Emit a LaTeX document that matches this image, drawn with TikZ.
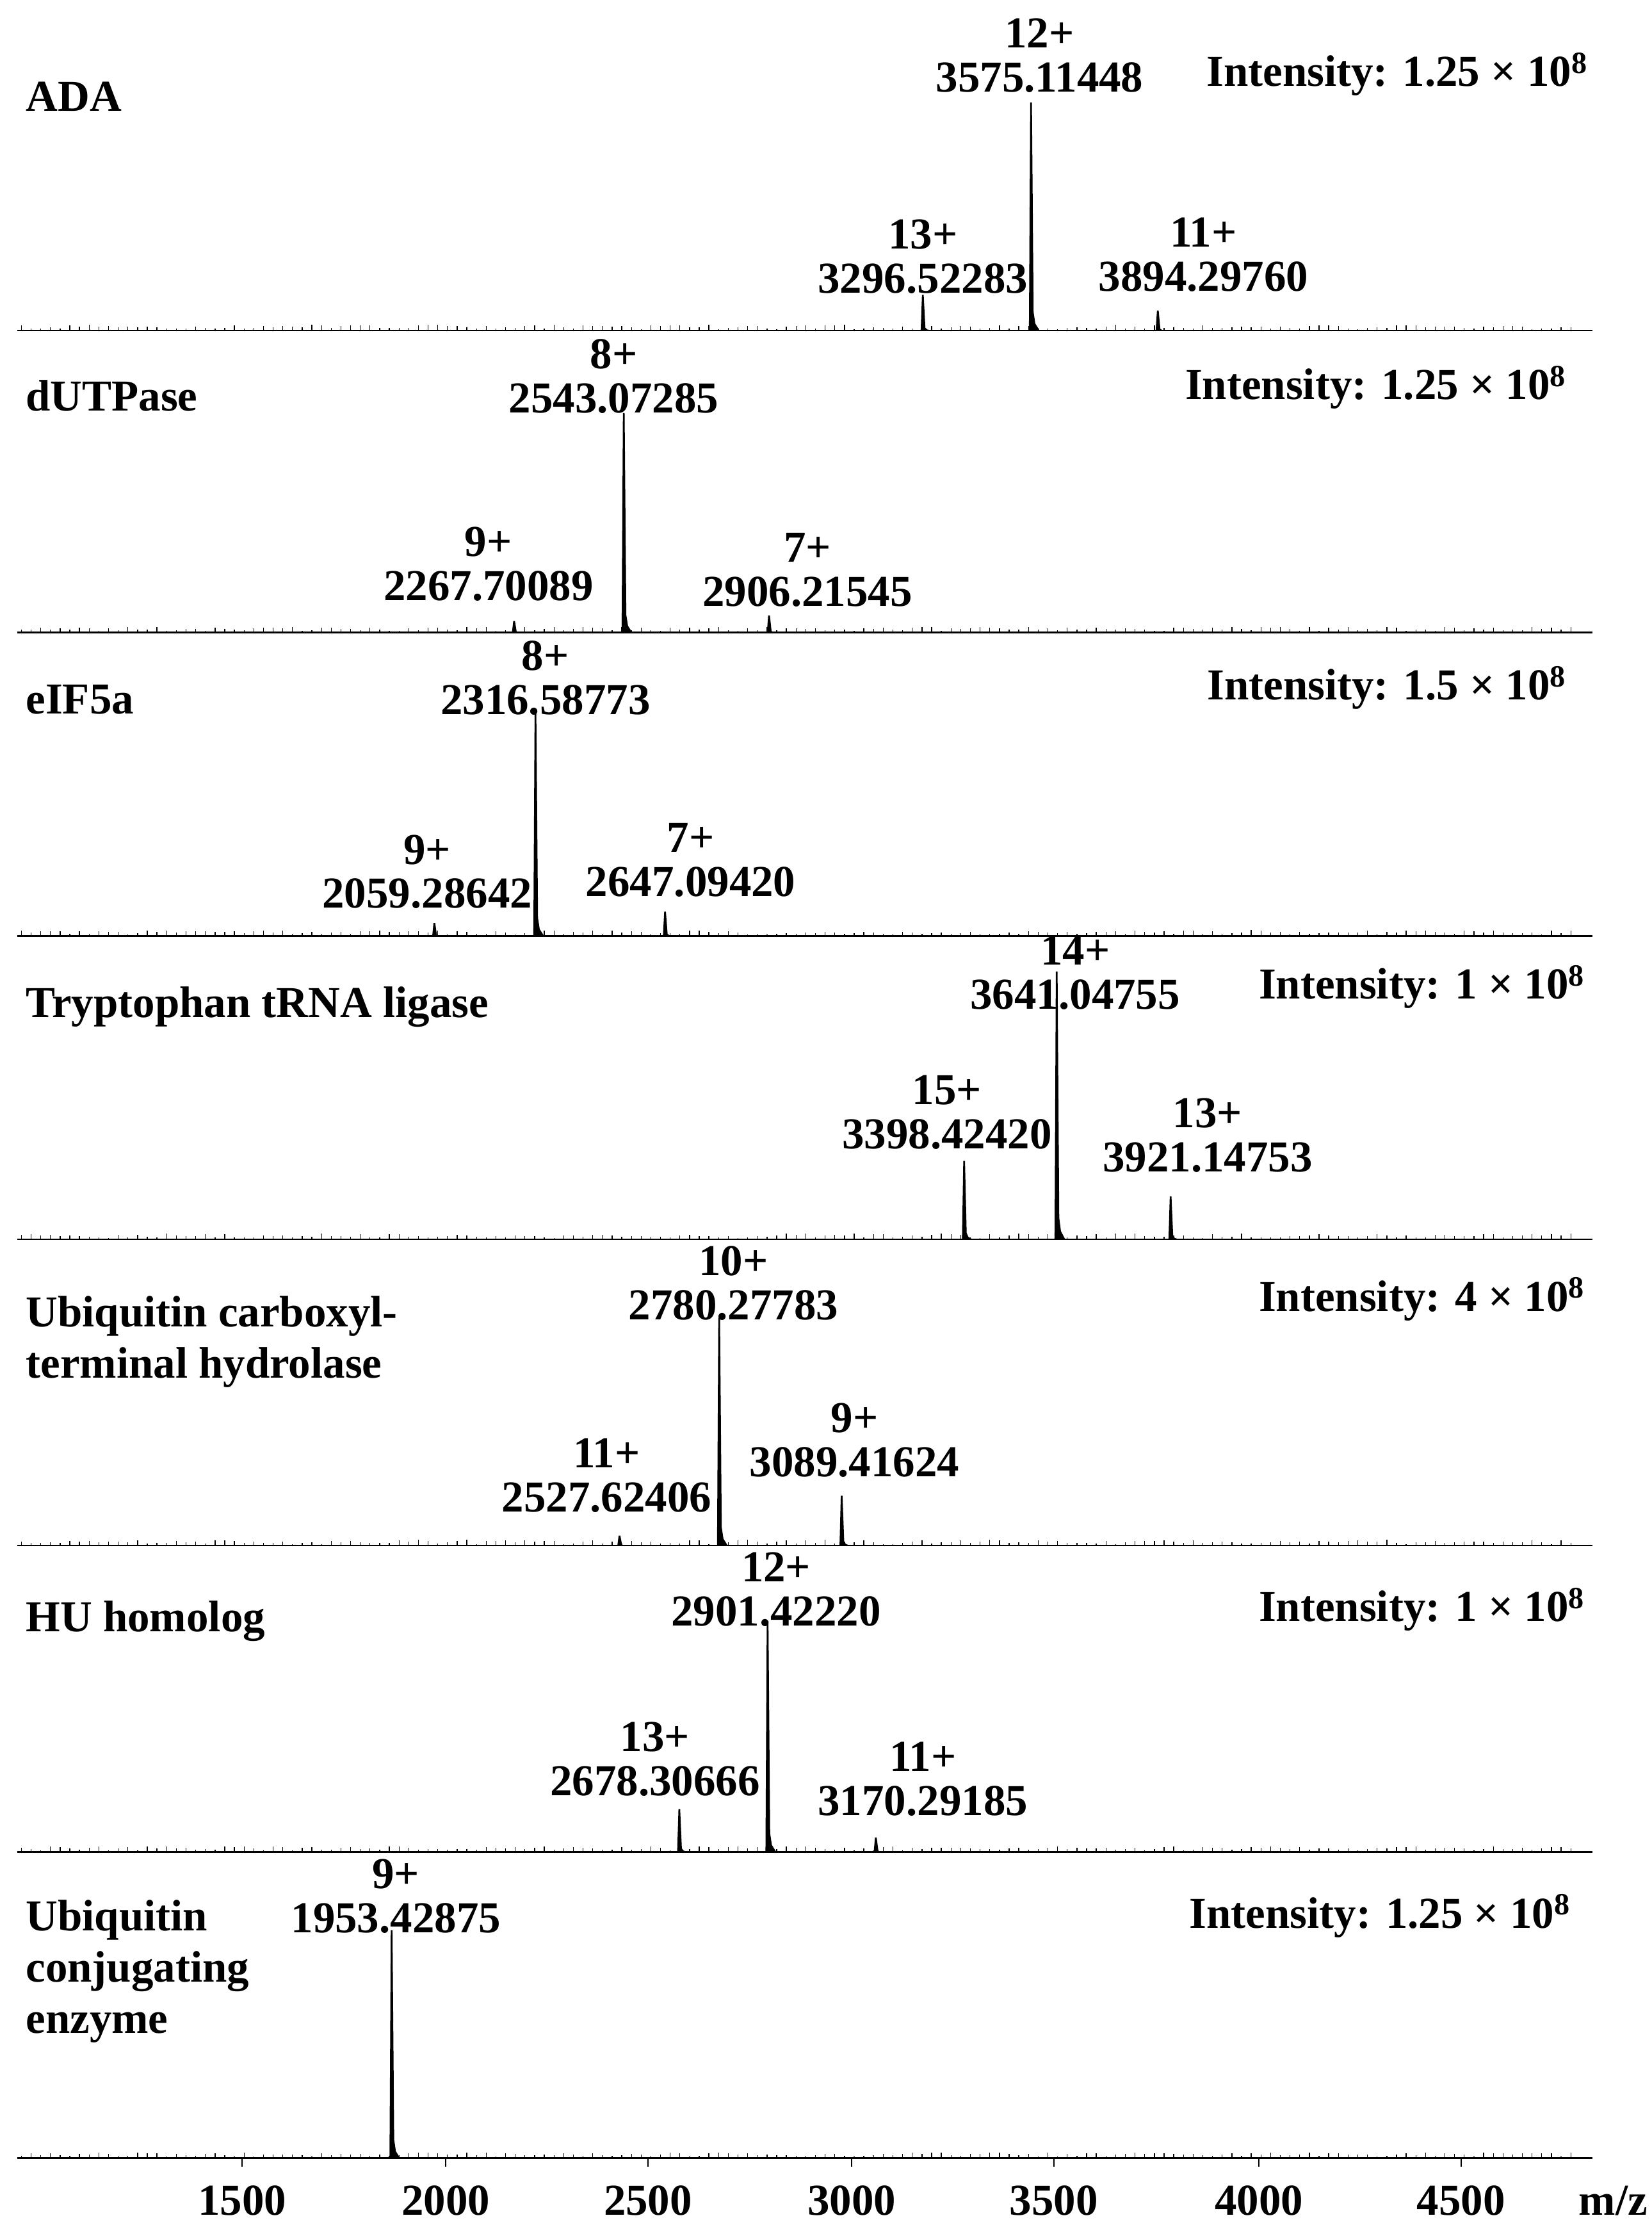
\documentclass[tikz,border=0pt]{standalone}
\usepackage{fontspec}
\setmainfont{Liberation Serif}
\begin{document}
\begin{tikzpicture}[x=1pt,y=-1pt,
  lbl/.style={font=\bfseries\fontsize{31}{31}\selectfont,inner sep=0pt,align=center},
  nm/.style={font=\bfseries\fontsize{31}{36}\selectfont,inner sep=0pt,anchor=west,align=left},
  inten/.style={font=\bfseries\fontsize{31}{31}\selectfont,inner sep=0pt,anchor=east},
  axisline/.style={line width=1.2pt}]
\useasboundingbox (0,0) rectangle (1160,1562);
\pgfmathsetseed{7}
\newcommand{\peak}[3]{\fill (#1-1.5,#2) -- (#1-0.6,#3) -- (#1+0.6,#3) -- (#1+1.8,#2-0.08*#2+0.08*#3) -- (#1+3,#2-0.03*#2+0.03*#3) -- (#1+6,#2) -- cycle;}
\newcommand{\noise}[1]{\foreach \i in {0,...,160}{\pgfmathsetmacro{\h}{1+3*rnd}\draw[line width=0.6pt] (15+\i*6.8,#1) -- ++(0,-\h);}}
% baselines
\foreach \b/\n in {232/a,444/b,657/c,870/d,1085/e,1300/f,1515/g}{
  \draw[axisline] (12,\b) coordinate (\n L) -- (1118,\b) coordinate (\n R);
  \noise{\b}
}
% panel 1
\peak{648}{232}{207}\peak{724}{232}{72}\peak{813}{232}{218}
\node[nm] (n1) at (18,68) {ADA};
\node[inten] (i1) at (1115,52) {Intensity: 1.25 × 10\textsuperscript{8}};
\node[lbl] (p1a) at (730,39) {12+\\3575.11448};
\node[lbl] (p1b) at (648,180) {13+\\3296.52283};
\node[lbl] (p1c) at (845,179) {11+\\3894.29760};
% panel 2
\peak{438}{444}{290}\peak{361}{444}{436}\peak{540}{444}{432}
\node[nm] (n2) at (18,278) {dUTPase};
\node[inten] (i2) at (1100,272) {Intensity: 1.25 × 10\textsuperscript{8}};
\node[lbl] (p2a) at (431,264) {8+\\2543.07285};
\node[lbl] (p2b) at (343,396) {9+\\2267.70089};
\node[lbl] (p2c) at (567,400) {7+\\2906.21545};
% panel 3
\peak{376}{657}{500}\peak{305}{657}{648}\peak{467}{657}{640}
\node[nm] (n3) at (18,491) {eIF5a};
\node[inten] (i3) at (1100,483) {Intensity: 1.5 × 10\textsuperscript{8}};
\node[lbl] (p3a) at (383,476) {8+\\2316.58773};
\node[lbl] (p3b) at (300,612) {9+\\2059.28642};
\node[lbl] (p3c) at (485,604) {7+\\2647.09420};
% panel 4
\peak{742}{870}{682}\peak{677}{870}{815}\peak{822}{870}{840}
\node[nm] (n4) at (18,707) {Tryptophan tRNA ligase};
\node[inten] (i4) at (1113,693) {Intensity: 1 × 10\textsuperscript{8}};
\node[lbl] (p4a) at (755,683) {14+\\3641.04755};
\node[lbl] (p4b) at (665,781) {15+\\3398.42420};
\node[lbl] (p4c) at (848,797) {13+\\3921.14753};
% panel 5
\peak{505}{1085}{925}\peak{435}{1085}{1078}\peak{591}{1085}{1050}
\node[nm] (n5) at (18,942) {Ubiquitin carboxyl-\\terminal hydrolase};
\node[inten] (i5) at (1113,912) {Intensity: 4 × 10\textsuperscript{8}};
\node[lbl] (p5a) at (515,901) {10+\\2780.27783};
\node[lbl] (p5b) at (426,1036) {11+\\2527.62406};
\node[lbl] (p5c) at (600,1011) {9+\\3089.41624};
% panel 6
\peak{539}{1300}{1138}\peak{477}{1300}{1270}\peak{615}{1300}{1290}
\node[nm] (n6) at (18,1138) {HU homolog};
\node[inten] (i6) at (1113,1130) {Intensity: 1 × 10\textsuperscript{8}};
\node[lbl] (p6a) at (545,1116) {12+\\2901.42220};
\node[lbl] (p6b) at (460,1235) {13+\\2678.30666};
\node[lbl] (p6c) at (648,1249) {11+\\3170.29185};
% panel 7
\peak{275}{1515}{1355}
\node[nm] (n7) at (18,1384) {Ubiquitin\\conjugating\\enzyme};
\node[inten] (i7) at (1103,1345) {Intensity: 1.25 × 10\textsuperscript{8}};
\node[lbl] (p7a) at (278,1331) {9+\\1953.42875};
% x axis
\foreach \x/\v in {170/1500,313/2000,455/2500,598/3000,740/3500,884/4000,1026/4500}{
  \draw[line width=1pt] (\x,1515) -- (\x,1521);
  \node[lbl] (t\v) at (\x,1545) {\v};
}
\node[lbl,anchor=east] (mz) at (1157,1545) {m/z};
\end{tikzpicture}
\end{document}
